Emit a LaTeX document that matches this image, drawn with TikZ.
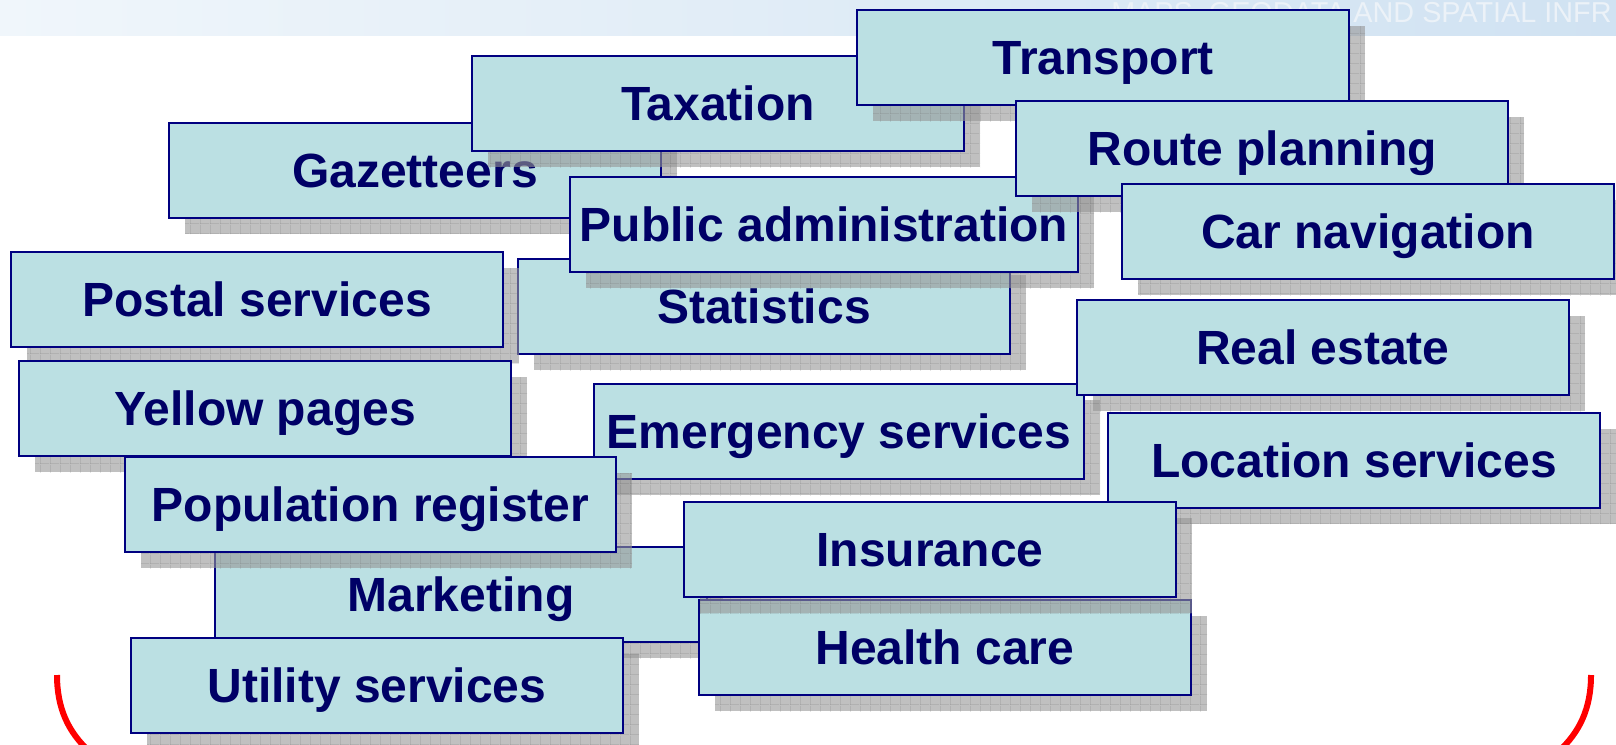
\documentclass[tikz,border=0pt]{standalone}
\usepackage{fontspec}
\setmainfont{Liberation Sans}
\usetikzlibrary{patterns.meta}
\definecolor{boxfill}{RGB}{187,224,227}
\definecolor{boxline}{RGB}{0,0,128}
\definecolor{boxtext}{RGB}{0,0,102}
\definecolor{bandL}{RGB}{240,246,251}
\definecolor{bandR}{RGB}{208,226,242}
\definecolor{bandtext}{RGB}{236,242,248}
\definecolor{shgray}{RGB}{150,150,150}
\definecolor{shline}{RGB}{110,110,110}
\tikzdeclarepattern{
  name=shgrid,
  type=uncolored,
  bounding box={(0pt,0pt) and (5pt,5pt)},
  tile size={(5pt,5pt)},
  code={\draw[line width=0.5pt] (0pt,0pt) -- (5pt,0pt) (0pt,0pt) -- (0pt,5pt);}
}
\tikzset{
  tbox/.style={draw=boxline, fill=boxfill, line width=1.3pt, inner sep=0pt, outer sep=0pt,
    minimum height=47.5pt, text=boxtext, font=\fontsize{24}{28}\selectfont\bfseries,
    text height=17.2pt, text depth=0pt, align=center},
  shadowfill/.style={fill=shgray, opacity=0.6},
  shadowgrid/.style={pattern={shgrid}, pattern color=shline, opacity=0.5},
  bracket/.style={draw=red, line width=3pt}
}
\newcommand\tbox[5]{%
  \fill[shadowfill] (#2+16,#3+16) rectangle (#2+#4+16,#3+111);
  \fill[shadowgrid] (#2+16,#3+16) rectangle (#2+#4+16,#3+111);
  \node[tbox, minimum width=#4*0.5pt, anchor=north west] (#1) at (#2,#3) {#5};
}
\begin{document}
\begin{tikzpicture}[x=0.5pt, y=-0.5pt]
\useasboundingbox (0,0) rectangle (1616,744);
\clip (0,0) rectangle (1616,744);
\fill[white] (0,0) rectangle (1616,744);
% top banner
\shade[left color=bandL, right color=bandR] (0,0) rectangle (1616,35);
\node[anchor=base east, text=bandtext, font=\fontsize{14.4}{16}\selectfont, inner sep=0pt] (banner) at (1612,22) {MAPS, GEODATA AND SPATIAL INFR};
% boxes
\tbox{gaz}{169}{123}{492}{Gazetteers}
\tbox{tax}{472}{56}{492}{Taxation}
\tbox{tra}{857}{10}{492}{Transport}
\tbox{sta}{518}{259}{492}{Statistics}
\tbox{pub}{570}{177}{508}{Public administration}
\tbox{rou}{1016}{101}{492}{Route planning}
\tbox{car}{1122}{184}{492}{Car navigation}
\tbox{pos}{11}{252}{492}{Postal services}
\tbox{yel}{19}{361}{492}{Yellow pages}
\tbox{eme}{594}{384}{490}{Emergency services}
\tbox{rea}{1077}{300}{492}{Real estate}
\tbox{loc}{1108}{413}{492}{Location services}
\tbox{mar}{215}{547}{492}{Marketing}
\tbox{pop}{125}{457}{491}{Population register}
\tbox{hea}{699}{600}{492}{Health care}
\tbox{ins}{684}{502}{492}{Insurance}
\tbox{uti}{131}{638}{492}{Utility services}
% red bracket ends
\coordinate (bl1) at (57,675);
\coordinate (bl2) at (90,752);
\coordinate (br1) at (1591,675);
\coordinate (br2) at (1558,752);
\draw[bracket] (bl1) .. controls (57,708) and (68,732) .. (bl2);
\draw[bracket] (br1) .. controls (1591,708) and (1580,732) .. (br2);
\end{tikzpicture}
\end{document}
